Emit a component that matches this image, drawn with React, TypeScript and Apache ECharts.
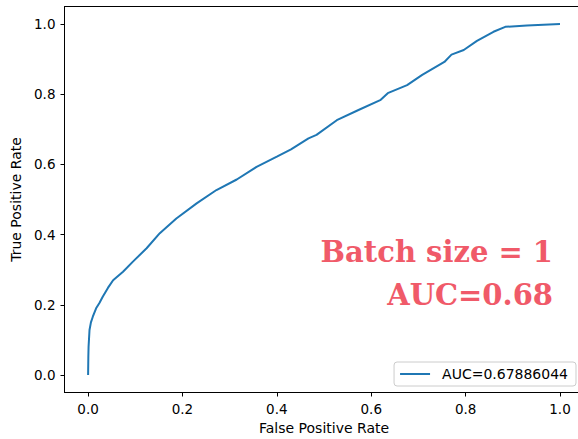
import React, { useEffect, useRef } from "react";
import * as echarts from "echarts";

const fpr = [0, 0.0005, 0.001, 0.003, 0.006, 0.01, 0.017, 0.024, 0.031, 0.042, 0.053, 0.074, 0.095, 0.124, 0.152, 0.187, 0.23, 0.272, 0.315, 0.357, 0.4, 0.43, 0.467, 0.484, 0.527, 0.573, 0.619, 0.635, 0.676, 0.708, 0.755, 0.77, 0.796, 0.824, 0.859, 0.884, 0.93, 1.0];
const tpr = [0, 0.05, 0.08, 0.128, 0.15, 0.166, 0.19, 0.205, 0.223, 0.248, 0.27, 0.294, 0.323, 0.361, 0.404, 0.446, 0.489, 0.527, 0.557, 0.593, 0.622, 0.643, 0.674, 0.684, 0.726, 0.755, 0.783, 0.803, 0.826, 0.855, 0.892, 0.913, 0.926, 0.952, 0.978, 0.992, 0.996, 1.0];
const tickValues = [0, 0.2, 0.4, 0.6, 0.8, 1.0];
const seriesName = "AUC=0.67886044";
const annotationLines = ["Batch size = 1", "AUC=0.68"];

export default function App() {
  const ref = useRef<HTMLDivElement>(null);
  useEffect(() => {
    if (!ref.current) return;
    const chart = echarts.init(ref.current, null, { renderer: "svg" });
    const font = "DejaVu Sans";
    const axisCommon = {
      type: "value" as const,
      min: -0.05,
      max: 1.05,
      splitLine: { show: false },
      axisLine: { show: true, onZero: false, lineStyle: { color: "#000", width: 1 } },
      axisTick: { show: true, customValues: tickValues, length: 4, lineStyle: { color: "#000", width: 1 } },
      nameTextStyle: { fontFamily: font, fontSize: 14, color: "#000" },
    };
    const labelCommon = {
      customValues: tickValues,
      formatter: (v: number) => v.toFixed(1),
      fontFamily: font,
      fontSize: 13.5,
      color: "#000",
      margin: 9,
    };
    chart.setOption({
      animation: false,
      textStyle: { fontFamily: font },
      grid: {
        left: 64.5,
        top: 6.5,
        right: -5.6,
        bottom: 46.5,
        outerBoundsMode: "none",
        containLabel: false,
        show: true,
        borderColor: "#000",
        borderWidth: 1,
        backgroundColor: "transparent",
      },
      xAxis: {
        ...axisCommon,
        name: "False Positive Rate",
        nameLocation: "middle",
        nameGap: 28,
        axisLabel: labelCommon,
      },
      yAxis: {
        ...axisCommon,
        name: "True Positive Rate",
        nameLocation: "middle",
        nameGap: 40,
        axisLabel: labelCommon,
      },
      legend: {
        right: 2,
        bottom: 53,
        orient: "vertical",
        padding: [5, 8, 5, 6],
        borderColor: "#cccccc",
        borderWidth: 1,
        borderRadius: 3,
        itemWidth: 30,
        itemHeight: 10,
        textStyle: { fontFamily: font, fontSize: 14, color: "#000", padding: [0, 0, 0, 7] },
        data: [{ name: seriesName, icon: "path://M0,4L30,4L30,6L0,6Z" }],
      },
      series: [
        {
          name: seriesName,
          type: "line",
          data: fpr.map((x, i) => [x, tpr[i]]),
          showSymbol: false,
          symbol: "none",
          lineStyle: { color: "#1f77b4", width: 2 },
          itemStyle: { color: "#1f77b4" },
        },
      ],
      graphic: annotationLines.map((t, i) => ({
        type: "text",
        right: 25,
        top: i === 0 ? 237 : 280,
        style: {
          text: t,
          fill: "#f05a69",
          font: "bold 29px 'DejaVu Serif'",
        },
      })),
    });
    return () => chart.dispose();
  }, []);
  return <div ref={ref} style={{ position: "absolute", left: 0, top: 0, width: 578, height: 439 }} />;
}
